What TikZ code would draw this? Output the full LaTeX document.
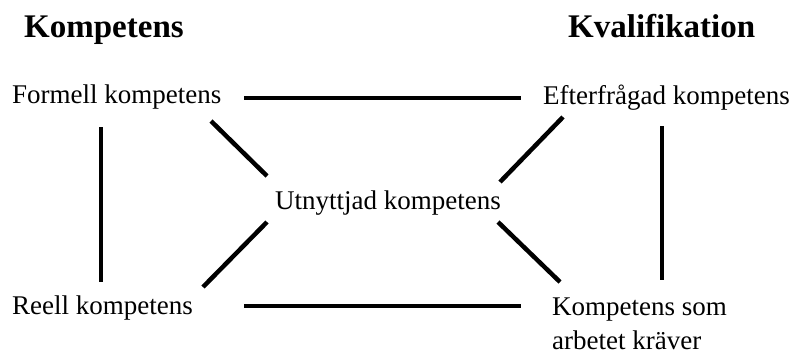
\documentclass[tikz,border=0pt]{standalone}
\usepackage{fontspec}
\setmainfont{Liberation Serif}
\begin{document}
\begin{tikzpicture}[x=1pt,y=-1pt,
  lbl/.style={anchor=base west,inner sep=0pt,font=\fontsize{27}{34}\selectfont},
  head/.style={anchor=base west,inner sep=0pt,font=\fontsize{33}{38}\selectfont\bfseries},
  conn/.style={line width=4.5pt}]
\useasboundingbox[fill=white] (0,0) rectangle (794,349);
\node[head] (hk) at (24,37) {Kompetens};
\node[head] (hq) at (568,37) {Kvalifikation};
\node[lbl] (formell) at (12,103) {Formell kompetens};
\node[lbl] (efter) at (543,104) {Efterfrågad kompetens};
\node[lbl] (utn) at (275,209) {Utnyttjad kompetens};
\node[lbl] (reell) at (12,314) {Reell kompetens};
\node[lbl,align=left,anchor=north west] (krav) at (552,298) {Kompetens som\\arbetet kräver};
% connector end points
\coordinate (t1) at (244,98);  \coordinate (t2) at (521,98);
\coordinate (b1) at (244,306); \coordinate (b2) at (521,306);
\coordinate (l1) at (101,127); \coordinate (l2) at (101,282);
\coordinate (r1) at (662,126); \coordinate (r2) at (662,280);
\coordinate (d1a) at (211,121); \coordinate (d1b) at (267,176);
\coordinate (d2a) at (267,222); \coordinate (d2b) at (203,287);
\coordinate (d3a) at (563,117); \coordinate (d3b) at (500,182);
\coordinate (d4a) at (498,222); \coordinate (d4b) at (560,282);
\draw[conn] (t1) -- (t2);
\draw[conn] (b1) -- (b2);
\draw[conn] (l1) -- (l2);
\draw[conn] (r1) -- (r2);
\draw[conn] (d1a) -- (d1b);
\draw[conn] (d2a) -- (d2b);
\draw[conn] (d3a) -- (d3b);
\draw[conn] (d4a) -- (d4b);
\end{tikzpicture}
\end{document}
